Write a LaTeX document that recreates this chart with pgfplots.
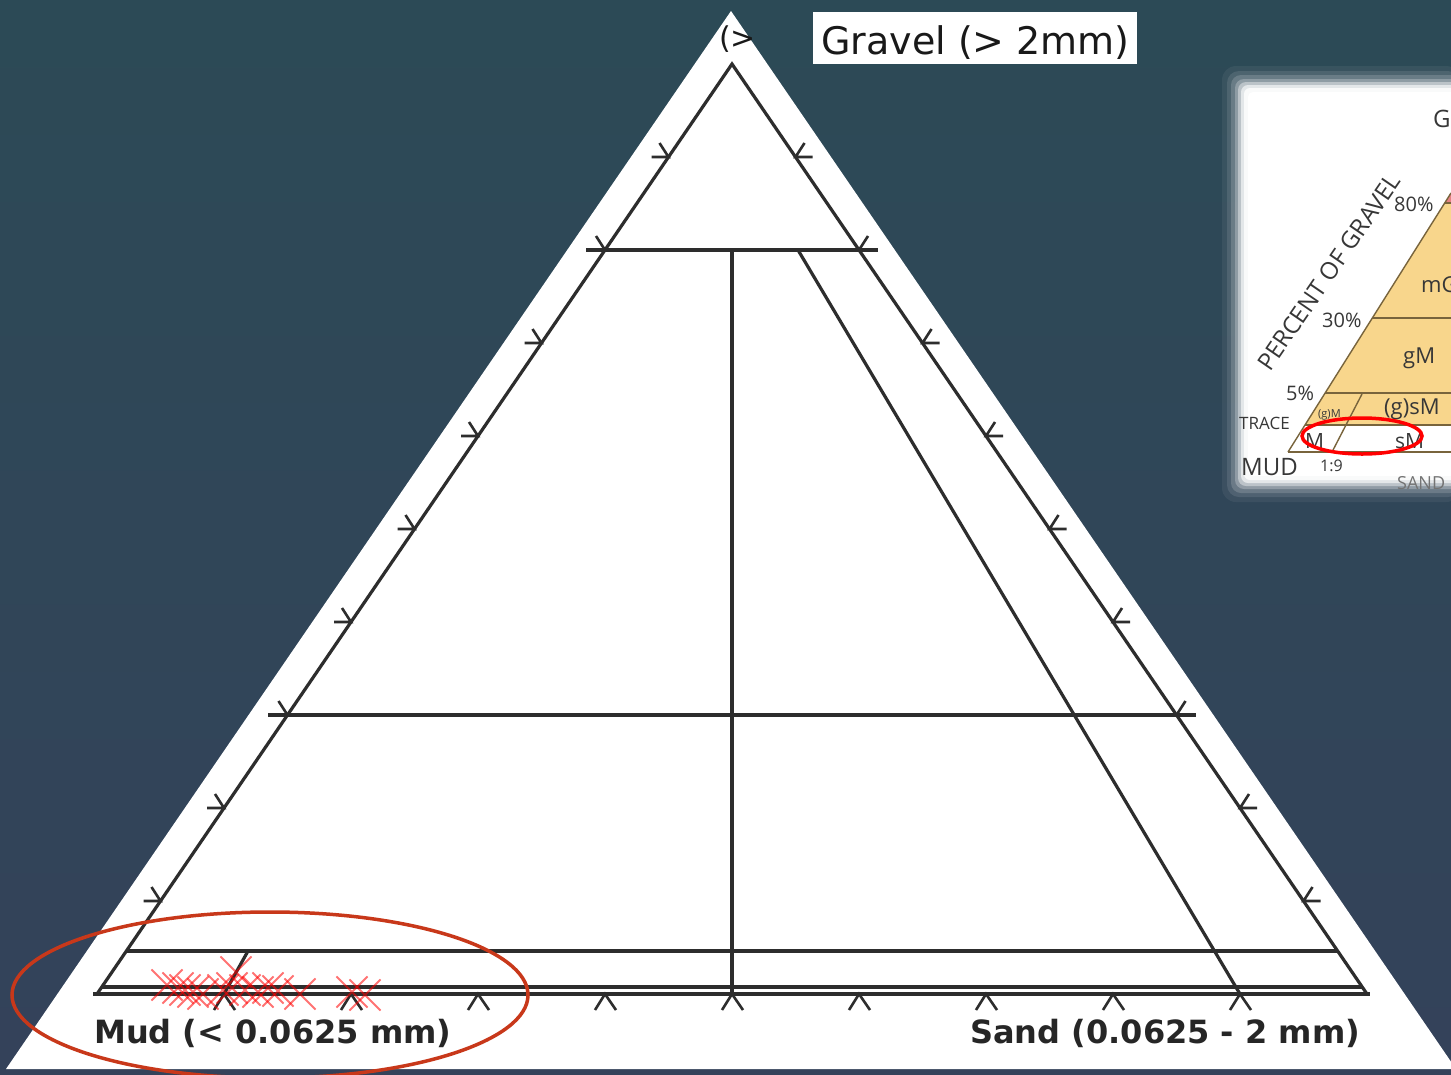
\documentclass[border=0pt]{standalone}
\usepackage{pgfplots}
\pgfplotsset{compat=1.18}
\usepackage{fontspec}
\setmainfont{DejaVu Sans}
\newfontfamily\insetfont{Open Sans}
\definecolor{bgtop}{RGB}{44,74,86}
\definecolor{bgbot}{RGB}{52,66,90}
\definecolor{diag}{RGB}{45,45,45}
\definecolor{ell}{RGB}{200,56,26}
\definecolor{insety}{RGB}{248,214,140}
\definecolor{insetl}{RGB}{120,100,60}
\definecolor{inpink}{RGB}{230,130,130}
\definecolor{intext}{RGB}{55,55,55}
\begin{document}
\begin{tikzpicture}
\begin{axis}[
  width=1451pt, height=1074pt, scale only axis,
  xmin=0, xmax=1451, ymin=0, ymax=1074, y dir=reverse,
  hide axis, clip=true, unbounded coords=jump,
]
% background
\addplot[draw=none, top color=bgtop, bottom color=bgbot] coordinates {(0,0)(1451,0)(1451,1074)(0,1074)} --cycle;
% outer white triangle
\addplot[draw=none, fill=white] coordinates {(731,11)(6,1069)(1456,1069)} --cycle;

% ---- inset picture (soft edged) ----
\addplot[draw=none, fill=white, fill opacity=0.06, rounded corners=14pt] coordinates {(1222,66)(1460,66)(1460,502)(1222,502)} --cycle;
\addplot[draw=none, fill=white, fill opacity=0.10, rounded corners=12pt] coordinates {(1227,71)(1460,71)(1460,497)(1227,497)} --cycle;
\addplot[draw=none, fill=white, fill opacity=0.16, rounded corners=10pt] coordinates {(1231,75)(1460,75)(1460,493)(1231,493)} --cycle;
\addplot[draw=none, fill=white, fill opacity=0.25, rounded corners=9pt] coordinates {(1235,79)(1460,79)(1460,489)(1235,489)} --cycle;
\addplot[draw=none, fill=white, fill opacity=0.40, rounded corners=8pt] coordinates {(1238,82)(1460,82)(1460,486)(1238,486)} --cycle;
\addplot[draw=none, fill=white, fill opacity=0.60, rounded corners=7pt] coordinates {(1241,85)(1460,85)(1460,483)(1241,483)} --cycle;
\addplot[draw=none, fill=white, fill opacity=0.80, rounded corners=6pt] coordinates {(1244,88)(1460,88)(1460,480)(1244,480)} --cycle;
\addplot[draw=none, fill=white, rounded corners=5pt] coordinates {(1248,92)(1460,92)(1460,476)(1248,476)} --cycle;
\addplot[draw=none, fill=insety] coordinates {(1445,203)(1451,203)(1451,425)(1305,425)} --cycle;
\addplot[draw=none, fill=inpink] coordinates {(1445,203)(1451,193)(1451,203)} --cycle;
\addplot[insetl, line width=1.4pt] coordinates {(1288,452)(1451,193)};
\addplot[insetl, line width=1.4pt] coordinates {(1445,203)(1451,203)};
\addplot[insetl, line width=1.4pt] coordinates {(1372,318)(1451,318)};
\addplot[insetl, line width=1.4pt] coordinates {(1325,393)(1451,393)};
\addplot[insetl, line width=1.4pt] coordinates {(1305,425)(1451,425)};
\addplot[insetl, line width=1.4pt] coordinates {(1288,452)(1451,452)};
\addplot[insetl, line width=1.4pt] coordinates {(1362,394)(1332,452)};
\node[anchor=base west, text=intext, inner sep=0pt, font=\insetfont\fontsize{24}{28}\selectfont] at (axis cs:1433,127) {G};
\node[anchor=center, rotate=55.5, text=intext, inner sep=0pt, font=\insetfont\fontsize{24}{26}\selectfont] at (axis cs:1329,272) {PERCENT OF GRAVEL};
\node[anchor=base west, text=intext, inner sep=0pt, font=\insetfont\fontsize{20}{24}\selectfont] at (axis cs:1394,211) {80\%};
\node[anchor=base west, text=intext, inner sep=0pt, font=\insetfont\fontsize{20}{24}\selectfont] at (axis cs:1322,327) {30\%};
\node[anchor=base west, text=intext, inner sep=0pt, font=\insetfont\fontsize{20}{24}\selectfont] at (axis cs:1286,400) {5\%};
\node[anchor=base west, text=intext, inner sep=0pt, font=\insetfont\fontsize{17}{20}\selectfont] at (axis cs:1239,429) {TRACE};
\node[anchor=base west, text=intext, inner sep=0pt, font=\insetfont\fontsize{24}{28}\selectfont] at (axis cs:1241,475) {MUD};
\node[anchor=base west, text=intext, inner sep=0pt, font=\insetfont\fontsize{16}{20}\selectfont] at (axis cs:1320,471) {1:9};
\node[anchor=base west, text=intext!70, inner sep=0pt, font=\insetfont\fontsize{18}{20}\selectfont] at (axis cs:1397,489) {SAND};
\node[anchor=base west, text=intext, inner sep=0pt, font=\insetfont\fontsize{22}{24}\selectfont] at (axis cs:1421,292) {mG};
\node[anchor=base west, text=intext, inner sep=0pt, font=\insetfont\fontsize{22}{24}\selectfont] at (axis cs:1403,363) {gM};
\node[anchor=base west, text=intext, inner sep=0pt, font=\insetfont\fontsize{22}{24}\selectfont] at (axis cs:1384,414) {(g)sM};
\node[anchor=base west, text=intext, inner sep=0pt, font=\insetfont\fontsize{11}{13}\selectfont] at (axis cs:1318,417) {(g)M};
\node[anchor=base west, text=intext, inner sep=0pt, font=\insetfont\fontsize{21}{24}\selectfont] at (axis cs:1305,448) {M};
\node[anchor=base west, text=intext, inner sep=0pt, font=\insetfont\fontsize{21}{24}\selectfont] at (axis cs:1395,448) {sM};
\draw[red, line width=3.5pt] (axis cs:1362,436) ellipse [x radius=60pt, y radius=18pt];

% ---- main ternary diagram ----
\addplot[diag, line width=3.2pt] coordinates {(97,994)(732,64)(1367,994)};
\addplot[diag, line width=3.2pt] coordinates {(93,994)(1370,994)};
\addplot[diag, line width=3.2pt] coordinates {(102,987)(1362,987)};
\addplot[diag, line width=3.2pt] coordinates {(126,951)(1338,951)};
\addplot[diag, line width=3.2pt] coordinates {(268,715)(1196,715)};
\addplot[diag, line width=3.2pt] coordinates {(586,250)(878,250)};
\addplot[diag, line width=3.2pt] coordinates {(732,250)(732,994)};
\addplot[diag, line width=3.2pt] coordinates {(798,250)(1240,994)};
\addplot[diag, line width=3.2pt] coordinates {(224,994)(248,951)};
% ticks, left edge
\addplot[diag, line width=2.6pt] coordinates {
 (143.5,901)(160.5,901)(151.5,887) (nan,nan)
 (207,808)(224,808)(215,794) (nan,nan)
 (270.5,715)(287.5,715)(278.5,701) (nan,nan)
 (334,622)(351,622)(342,608) (nan,nan)
 (397.5,529)(414.5,529)(405.5,515) (nan,nan)
 (461,436)(478,436)(469,422) (nan,nan)
 (524.5,343)(541.5,343)(532.5,329) (nan,nan)
 (588,250)(605,250)(596,236) (nan,nan)
 (651.5,157)(668.5,157)(659.5,143)
};
% ticks, right edge
\addplot[diag, line width=2.6pt] coordinates {
 (1320.5,901)(1303.5,901)(1312.5,887) (nan,nan)
 (1257,808)(1240,808)(1249,794) (nan,nan)
 (1193.5,715)(1176.5,715)(1185.5,701) (nan,nan)
 (1130,622)(1113,622)(1122,608) (nan,nan)
 (1066.5,529)(1049.5,529)(1058.5,515) (nan,nan)
 (1003,436)(986,436)(995,422) (nan,nan)
 (939.5,343)(922.5,343)(931.5,329) (nan,nan)
 (876,250)(859,250)(868,236) (nan,nan)
 (812.5,157)(795.5,157)(804.5,143)
};
% ticks, bottom edge
\addplot[diag, line width=2.6pt] coordinates {
 (214,1010)(224,994)(235,1010) (nan,nan)
 (341,1010)(351,994)(362,1010) (nan,nan)
 (468,1010)(478,994)(489,1010) (nan,nan)
 (595,1010)(605,994)(616,1010) (nan,nan)
 (722,1010)(732,994)(743,1010) (nan,nan)
 (849,1010)(859,994)(870,1010) (nan,nan)
 (976,1010)(986,994)(997,1010) (nan,nan)
 (1103,1010)(1113,994)(1124,1010) (nan,nan)
 (1230,1010)(1240,994)(1251,1010)
};
% samples
\addplot[only marks, mark=x, mark size=22pt, mark options={draw=red, line width=1.8pt, opacity=0.55}] coordinates {
 (167,985)(178,988)(185,990)(193,992)(203,994)(223,990)(236,972)(232,988)
 (245,990)(258,992)(268,988)(278,991)(300,994)(352,992)(365,995)
};

% labels
\node[anchor=base west, inner sep=0pt, text=black!90, font=\fontsize{30}{34}\selectfont] at (axis cs:719,48) {(>};
\addplot[draw=none, fill=white] coordinates {(813,12)(1137,12)(1137,64)(813,64)} --cycle;
\node[anchor=base west, inner sep=0pt, text=black!90, font=\fontsize{38}{42}\selectfont] at (axis cs:821,54) {Gravel (> 2mm)};
\node[anchor=base west, inner sep=0pt, text=black!85, font=\bfseries\fontsize{32}{40}\selectfont] at (axis cs:94,1043) {Mud (< 0.0625 mm)};
\node[anchor=base west, inner sep=0pt, text=black!85, font=\bfseries\fontsize{32}{40}\selectfont] at (axis cs:970,1043) {Sand (0.0625 - 2 mm)};

% highlight ellipse
\draw[ell, line width=3.5pt] (axis cs:270,995) ellipse [x radius=258pt, y radius=83pt];
\end{axis}
\end{tikzpicture}
\end{document}
